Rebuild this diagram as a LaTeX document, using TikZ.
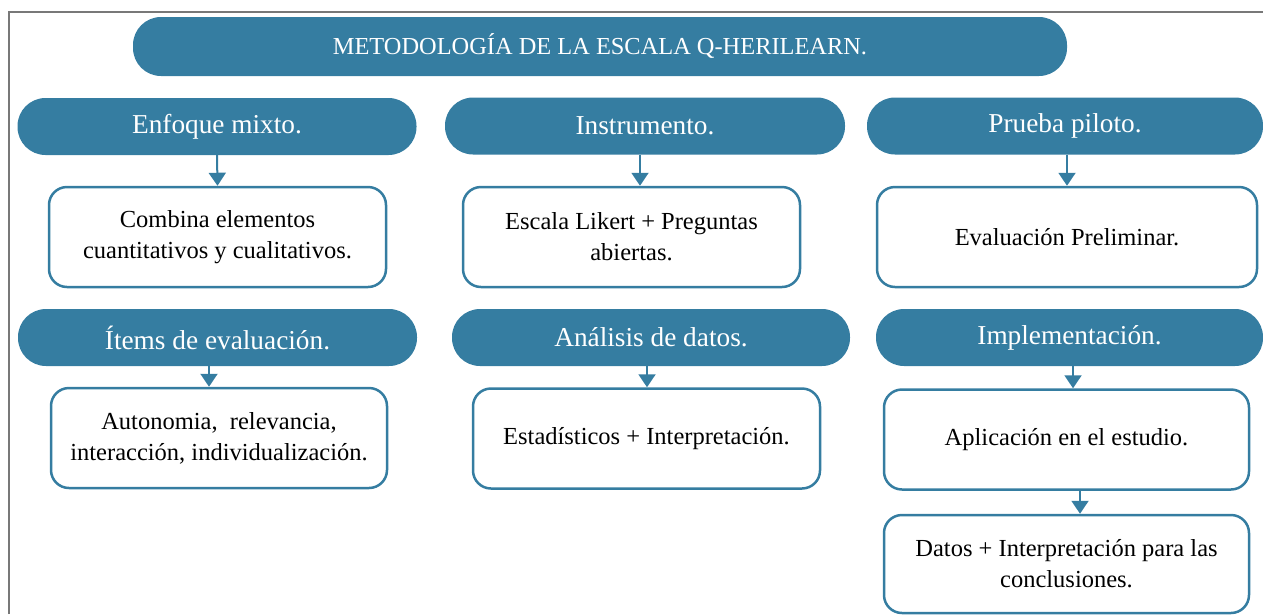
\documentclass[tikz,border=0pt]{standalone}
\usepackage{fontspec}
\setmainfont{Liberation Serif}
\usetikzlibrary{arrows.meta}
\definecolor{azul}{RGB}{53,125,161}
\definecolor{marcogris}{RGB}{120,120,120}

\begin{document}
\begin{tikzpicture}[x=1pt,y=-1pt,
  titulo/.style={fill=azul,text=white,rounded corners=28pt,minimum height=59pt,inner sep=0pt,font=\fontsize{24.4}{28}\selectfont},
  cabecera/.style={fill=azul,text=white,rounded corners=28pt,minimum height=57pt,inner sep=0pt,font=\fontsize{27.3}{32}\selectfont},
  caja/.style={draw=azul,line width=2.5pt,fill=white,rounded corners=18pt,minimum height=100pt,inner sep=0pt,align=center,font=\fontsize{24.5}{31}\selectfont},
  flecha/.style={draw=azul,line width=2pt,-{Triangle[length=13pt,width=17pt]}}]

\useasboundingbox (0,0) rectangle (1263,614);
\draw [marcogris,line width=1.5pt] (9,614) -- (9,12) -- (1263,12);

\node [titulo,minimum width=934pt] (metodo) at (600,46.5) {METODOLOGÍA DE LA ESCALA Q-HERILEARN.};

\node [cabecera,minimum width=399pt] (enfoque) at (217,126.5) {Enfoque mixto.};
\node [cabecera,minimum width=400pt] (instrumento) at (645,126) {Instrumento.};
\node [cabecera,minimum width=396pt] (piloto) at (1065,126) {Prueba piloto.};

\node [caja,minimum width=337pt] (combina) at (217.5,237) {Combina elementos\\cuantitativos y cualitativos.};
\node [caja,minimum width=337pt] (escala) at (631.5,237) {Escala Likert + Preguntas\\abiertas.};
\node [caja,minimum width=380pt] (preliminar) at (1067,237) {Evaluación Preliminar.};

\node [cabecera,minimum width=399pt] (items) at (217.5,337.5) {Ítems de evaluación.};
\node [cabecera,minimum width=398pt] (analisis) at (651,337.5) {Análisis de datos.};
\node [cabecera,minimum width=387pt] (implementacion) at (1069.5,337.5) {Implementación.};

\node [caja,minimum width=336pt] (autonomia) at (219,438) {Autonomia,\ \ relevancia,\\interacción, individualización.};
\node [caja,minimum width=347pt] (estadisticos) at (646.5,438.5) {Estadísticos + Interpretación.};
\node [caja,minimum width=365pt] (aplicacion) at (1066.5,439.5) {Aplicación en el estudio.};
\node [caja,minimum width=365pt,minimum height=98pt] (datos) at (1066.5,564) {Datos + Interpretación para las\\conclusiones.};

\draw [flecha] (enfoque.south) -- (combina.north);
\draw [flecha] ([xshift=-5pt]instrumento.south) -- ([xshift=8.5pt]escala.north);
\draw [flecha] ([xshift=2pt]piloto.south) -- (preliminar.north);

\draw [flecha] ([xshift=-8.5pt]items.south) -- ([xshift=-10pt]autonomia.north);
\draw [flecha] ([xshift=-4pt]analisis.south) -- ([xshift=0.5pt]estadisticos.north);
\draw [flecha] ([xshift=3.5pt]implementacion.south) -- ([xshift=6.5pt]aplicacion.north);
\draw [flecha] ([xshift=13.5pt]aplicacion.south) -- ([xshift=13.5pt]datos.north);

\end{tikzpicture}
\end{document}
